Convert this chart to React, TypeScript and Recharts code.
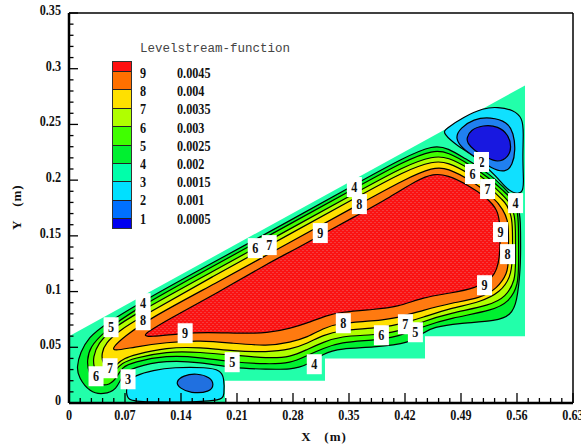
import React from 'react';
import { ScatterChart, Scatter, XAxis, YAxis, ReferenceLine } from 'recharts';

type Pt = { x: number; y: number };
const toPts = (rows: number[][]): Pt[] => rows.map(([x, y]) => ({ x, y }));

const xTicks = [0, 0.014, 0.028, 0.042, 0.056, 0.07, 0.084, 0.098, 0.112, 0.126, 0.14, 0.154, 0.168, 0.182, 0.196, 0.21, 0.224, 0.238, 0.252, 0.266, 0.28, 0.294, 0.308, 0.322, 0.336, 0.35, 0.364, 0.378, 0.392, 0.406, 0.42, 0.434, 0.448, 0.462, 0.476, 0.49, 0.504, 0.518, 0.532, 0.546, 0.56, 0.574, 0.588, 0.602, 0.616, 0.63];
const xMajor = [0, 0.07, 0.14, 0.21, 0.28, 0.35, 0.42, 0.49, 0.56, 0.63];
const yTicks = [0, 0.01, 0.02, 0.03, 0.04, 0.05, 0.06, 0.07, 0.08, 0.09, 0.1, 0.11, 0.12, 0.13, 0.14, 0.15, 0.16, 0.17, 0.18, 0.19, 0.2, 0.21, 0.22, 0.23, 0.24, 0.25, 0.26, 0.27, 0.28, 0.29, 0.3, 0.31, 0.32, 0.33, 0.34, 0.35];
const yMajor = [0, 0.05, 0.1, 0.15, 0.2, 0.25, 0.3, 0.35];

const legendLevels = ['9', '8', '7', '6', '5', '4', '3', '2', '1'];
const legendValues = ['0.0045', '0.004', '0.0035', '0.003', '0.0025', '0.002', '0.0015', '0.001', '0.0005'];
const legendColors = ['#ff1010', '#ff7000', '#ffe000', '#b0ff00', '#40ff00', '#00f030', '#00ffaa', '#00e0ff', '#0070ff', '#0000f0'];

const domainOutline = toPts([[0, 0], [0, 0.06], [0.57, 0.285], [0.57, 0.06], [0.445, 0.06], [0.445, 0.04], [0.32, 0.04], [0.32, 0.02], [0.195, 0.02], [0.195, 0]]);

const contour4 = toPts([[0.014, 0.0455], [0.025, 0.059], [0.043, 0.07], [0.101, 0.095], [0.18, 0.126], [0.277, 0.164], [0.357, 0.196], [0.42, 0.2209], [0.4556, 0.2315], [0.4731, 0.229], [0.4981, 0.218], [0.5056, 0.215], [0.527, 0.2045], [0.5432, 0.194], [0.5545, 0.1848], [0.562, 0.176], [0.5645, 0.164], [0.5645, 0.14], [0.5645, 0.122], [0.56, 0.0896], [0.552, 0.079], [0.5357, 0.0735], [0.485, 0.0716], [0.456, 0.068], [0.443, 0.0635], [0.427, 0.0536], [0.38, 0.05], [0.339, 0.049], [0.318, 0.0446], [0.298, 0.0339], [0.277, 0.03], [0.248, 0.0303], [0.205, 0.0312], [0.164, 0.0366], [0.122, 0.0384], [0.08, 0.0321], [0.066, 0.025], [0.06, 0.012], [0.043, 0.0075], [0.026, 0.0095], [0.012, 0.023], [0.0095, 0.032]]);
const contour5 = toPts([[0.026, 0.05], [0.043, 0.0635], [0.08, 0.0832], [0.18, 0.1227], [0.277, 0.161], [0.36, 0.1938], [0.42, 0.2175], [0.4556, 0.2271], [0.4731, 0.2253], [0.5019, 0.2136], [0.5269, 0.201], [0.5432, 0.1902], [0.5545, 0.183], [0.5607, 0.1731], [0.562, 0.1597], [0.562, 0.128], [0.562, 0.1057], [0.5495, 0.0905], [0.5307, 0.0833], [0.4768, 0.0761], [0.443, 0.0689], [0.41, 0.059], [0.38, 0.0563], [0.339, 0.0545], [0.318, 0.049], [0.298, 0.0428], [0.277, 0.0357], [0.248, 0.0348], [0.205, 0.0366], [0.164, 0.041], [0.122, 0.0429], [0.08, 0.0366], [0.066, 0.0321], [0.06, 0.0231], [0.051, 0.0159], [0.036, 0.0159], [0.024, 0.0267], [0.0225, 0.0384]]);
const contour6 = toPts([[0.036, 0.0536], [0.055, 0.067], [0.08, 0.0787], [0.18, 0.1182], [0.277, 0.1565], [0.36, 0.1893], [0.42, 0.213], [0.4556, 0.2217], [0.4731, 0.2208], [0.5019, 0.21], [0.5269, 0.1974], [0.5432, 0.1857], [0.552, 0.1794], [0.557, 0.1686], [0.5582, 0.157], [0.5582, 0.128], [0.5582, 0.1102], [0.5457, 0.095], [0.5269, 0.0878], [0.4768, 0.0806], [0.443, 0.0734], [0.41, 0.0635], [0.38, 0.061], [0.339, 0.06], [0.318, 0.0545], [0.298, 0.0482], [0.277, 0.041], [0.248, 0.0402], [0.205, 0.0429], [0.164, 0.0456], [0.122, 0.0465], [0.08, 0.04], [0.066, 0.0357], [0.058, 0.0294], [0.049, 0.0222], [0.036, 0.025], [0.031, 0.032], [0.03, 0.041]]);
const contour7 = toPts([[0.045, 0.0536], [0.064, 0.0653], [0.083, 0.0743], [0.18, 0.1137], [0.277, 0.152], [0.36, 0.1848], [0.42, 0.2085], [0.4556, 0.2172], [0.4731, 0.2163], [0.5019, 0.2055], [0.5269, 0.1929], [0.5432, 0.1812], [0.547, 0.1785], [0.5532, 0.1677], [0.5545, 0.157], [0.5545, 0.128], [0.552, 0.1129], [0.5394, 0.0995], [0.5144, 0.0905], [0.4768, 0.0851], [0.443, 0.077], [0.41, 0.0698], [0.38, 0.067], [0.339, 0.0653], [0.318, 0.061], [0.298, 0.0536], [0.277, 0.048], [0.248, 0.0456], [0.205, 0.0465], [0.164, 0.05], [0.122, 0.05], [0.08, 0.0429], [0.07, 0.0402], [0.06, 0.0357], [0.054, 0.0276], [0.041, 0.0357], [0.041, 0.0447]]);
const contour8 = toPts([[0.055, 0.05], [0.068, 0.059], [0.101, 0.076], [0.18, 0.1062], [0.277, 0.1445], [0.36, 0.1773], [0.42, 0.201], [0.4556, 0.2118], [0.4731, 0.2109], [0.5019, 0.2001], [0.5307, 0.1848], [0.5432, 0.1731], [0.5482, 0.1641], [0.5495, 0.1552], [0.5495, 0.128], [0.5482, 0.1165], [0.5357, 0.1031], [0.5144, 0.094], [0.4768, 0.0896], [0.443, 0.0833], [0.41, 0.0761], [0.38, 0.0735], [0.335, 0.0716], [0.318, 0.067], [0.298, 0.059], [0.277, 0.0545], [0.248, 0.051], [0.205, 0.0536], [0.164, 0.0563], [0.122, 0.0545], [0.08, 0.05], [0.055, 0.0465]]);
const contour9 = toPts([[0.094, 0.0608], [0.098, 0.0635], [0.122, 0.0743], [0.185, 0.0986], [0.255, 0.128], [0.277, 0.1356], [0.36, 0.1684], [0.402, 0.185], [0.435, 0.2], [0.4556, 0.206], [0.473, 0.2045], [0.498, 0.196], [0.523, 0.184], [0.536, 0.173], [0.539, 0.161], [0.539, 0.128], [0.531, 0.112], [0.508, 0.103], [0.477, 0.0986], [0.443, 0.095], [0.41, 0.086], [0.381, 0.084], [0.339, 0.0815], [0.323, 0.0788], [0.302, 0.0727], [0.277, 0.067], [0.248, 0.0626], [0.214, 0.0625], [0.172, 0.0635], [0.141, 0.0625], [0.099, 0.059]]);

const upperEddy3 = toPts([[0.4668, 0.2423], [0.4706, 0.2459], [0.4931, 0.2567], [0.5181, 0.2648], [0.5357, 0.2657], [0.5557, 0.263], [0.567, 0.2558], [0.5682, 0.2423], [0.567, 0.2208], [0.5682, 0.2001], [0.5682, 0.1866], [0.5495, 0.1893], [0.5357, 0.2028], [0.5056, 0.2226], [0.4868, 0.2298]]);
const upperEddy2 = toPts([[0.4819, 0.2378], [0.4894, 0.2468], [0.5056, 0.2549], [0.5269, 0.2567], [0.5482, 0.2522], [0.5557, 0.2423], [0.5582, 0.2271], [0.5545, 0.2136], [0.5457, 0.2064], [0.5269, 0.2109], [0.5144, 0.2181], [0.4931, 0.2271]]);
const upperEddy1 = toPts([[0.4969, 0.2378], [0.5019, 0.245], [0.5169, 0.2495], [0.5369, 0.2486], [0.5495, 0.2405], [0.5532, 0.2297], [0.5495, 0.2208], [0.5357, 0.2154], [0.5207, 0.2208], [0.5056, 0.2271], [0.4981, 0.2333]]);
const lowerEddy3 = toPts([[0.0713, 0.0096], [0.0726, 0.0186], [0.0826, 0.0249], [0.1051, 0.0294], [0.1302, 0.0321], [0.1727, 0.0321], [0.189, 0.0294], [0.194, 0.0231], [0.194, 0.0069], [0.1915, 0.001], [0.0889, 0.0006], [0.0738, 0.0024]]);
const lowerEddy2 = toPts([[0.1327, 0.0186], [0.1427, 0.0249], [0.1602, 0.0267], [0.1765, 0.0231], [0.1815, 0.0168], [0.1765, 0.0096], [0.1514, 0.0087], [0.1389, 0.0132]]);

const contourLabels = [
  { x: 0.3567, y: 0.1938, text: '4' }, { x: 0.363, y: 0.1785, text: '8' }, { x: 0.2328, y: 0.139, text: '6' },
  { x: 0.2503, y: 0.1417, text: '7' }, { x: 0.3141, y: 0.1525, text: '9' }, { x: 0.5156, y: 0.2163, text: '2' },
  { x: 0.5044, y: 0.2055, text: '6' }, { x: 0.5232, y: 0.192, text: '7' }, { x: 0.5582, y: 0.1794, text: '4' },
  { x: 0.5394, y: 0.1534, text: '9' }, { x: 0.5482, y: 0.1336, text: '8' }, { x: 0.5194, y: 0.1057, text: '9' },
  { x: 0.3429, y: 0.0716, text: '8' }, { x: 0.4205, y: 0.0707, text: '7' }, { x: 0.3905, y: 0.0608, text: '6' },
  { x: 0.433, y: 0.0635, text: '5' }, { x: 0.3066, y: 0.0348, text: '4' }, { x: 0.204, y: 0.0366, text: '5' },
  { x: 0.1452, y: 0.0626, text: '9' }, { x: 0.0526, y: 0.068, text: '5' }, { x: 0.0926, y: 0.0896, text: '4' },
  { x: 0.0926, y: 0.0743, text: '8' }, { x: 0.0513, y: 0.0312, text: '7' }, { x: 0.0338, y: 0.024, text: '6' },
  { x: 0.0738, y: 0.0213, text: '3' },
];

const SERIF = '"Liberation Serif", serif';

// the original numbers are taller than they are wide, so squeeze them a bit
const NarrowText = ({ x, y, anchor, children }: any) => (
  <text
    transform={`translate(${x},${y}) scale(0.84,1)`}
    textAnchor={anchor}
    fontFamily={SERIF}
    fontWeight="bold"
    fontSize={14.5}
    fill="#111"
  >
    {children}
  </text>
);

const XTick = ({ x, y, payload }: any) =>
  xMajor.includes(payload.value) ? <NarrowText x={x} y={y + 17} anchor="middle">{payload.value}</NarrowText> : <g />;

const YTick = ({ x, y, payload }: any) =>
  yMajor.includes(payload.value) ? <NarrowText x={x - 8} y={y + 2} anchor="end">{payload.value}</NarrowText> : <g />;

// axes sit under the series, so the inward tick marks are series of their own
const xMark = ({ cx, cy, payload }: any) => (
  <line x1={cx} x2={cx} y1={cy} y2={cy - (xMajor.includes(payload.x) ? 10 : 5)} stroke="#000" strokeWidth={1.3} />
);
const yMark = ({ cx, cy, payload }: any) => (
  <line x1={cx} x2={cx + (yMajor.includes(payload.y) ? 9 : 4.5)} y1={cy} y2={cy} stroke="#000" strokeWidth={1.3} />
);
const xMarks = xTicks.map((x) => ({ x, y: 0 }));
const yMarks = yTicks.map((y) => ({ x: 0, y }));

const ContourLabel = ({ cx, cy, payload }: any) => (
  <g>
    <rect x={cx - 7.5} y={cy - 10} width={15} height={20} fill="#fff" />
    <NarrowText x={cx} y={cy + 5} anchor="middle">{payload.text}</NarrowText>
  </g>
);

const noDot = () => <g />;

const band = (key: string, data: Pt[], fill: string, stroke: string = '#000', joint: any = 'basisClosed') => (
  <Scatter
    key={key}
    data={data}
    fill={fill}
    line={{ fill, stroke, strokeWidth: 1.2 }}
    lineJointType={joint}
    shape={noDot}
    isAnimationActive={false}
  />
);

const axisEdge = (key: string, data: Pt[]) => (
  <Scatter key={key} data={data} fill="none" line={{ stroke: '#000', strokeWidth: 2.5 }} lineJointType="linear" shape={noDot} isAnimationActive={false} />
);

const legendText: React.CSSProperties = {
  position: 'absolute',
  fontFamily: SERIF,
  fontWeight: 'bold',
  fontSize: 14.5,
  lineHeight: '15px',
  color: '#111',
  transform: 'scaleX(0.84)',
  transformOrigin: 'left',
};

const Legend = () => (
  <div style={{ position: 'absolute', left: 0, top: 0 }}>
    <div style={{ position: 'absolute', left: 140, top: 42, fontFamily: '"Liberation Mono", monospace', fontSize: 12.5, color: '#444', whiteSpace: 'pre' }}>
      Levelstream-function
    </div>
    <div style={{ position: 'absolute', left: 112, top: 61, width: 18, border: '0.5px solid #333' }}>
      {legendColors.map((c, i) => (
        <div key={c} style={{ height: i === 0 || i === 9 ? 9 : 17.4, background: c, borderBottom: i < 9 ? '1px solid #222' : 'none' }} />
      ))}
    </div>
    {legendLevels.map((lv, i) => (
      <div key={lv} style={{ ...legendText, left: 140, top: 66 + i * 18.2 }}>{lv}</div>
    ))}
    {legendValues.map((v, i) => (
      <div key={v} style={{ ...legendText, left: 177, top: 66 + i * 18.2 }}>{v}</div>
    ))}
  </div>
);

export default function App() {
  return (
    <div style={{ position: 'absolute', left: 0, top: 0, width: 581, height: 447 }}>
      <ScatterChart width={581} height={447} margin={{ top: 13, right: 8, bottom: 0, left: 0 }}>
        <defs>
          <pattern id="mesh" width="4" height="4" patternUnits="userSpaceOnUse">
            <rect width="4" height="4" fill="#fb1212" />
            <rect x="0" y="0" width="2" height="1" fill="#f43c3c" />
            <rect x="2" y="2" width="2" height="1" fill="#f43c3c" />
          </pattern>
        </defs>
        <XAxis
          type="number"
          dataKey="x"
          domain={[0, 0.63]}
          ticks={xTicks}
          interval={0}
          height={44}
          tickSize={0}
          tickMargin={0}
          tick={<XTick />}
          axisLine={false}
          label={{ value: 'X\u00a0\u00a0\u00a0(m)', position: 'insideBottom', offset: 6, dx: 3, style: { fontFamily: SERIF, fontWeight: 'bold', fontSize: 13, letterSpacing: 1, fill: '#111' } }}
        />
        <YAxis
          type="number"
          dataKey="y"
          domain={[0, 0.35]}
          ticks={yTicks}
          interval={0}
          width={69}
          tickSize={0}
          tickMargin={0}
          tick={<YTick />}
          axisLine={false}
          label={{ value: 'Y\u00a0\u00a0\u00a0(m)', angle: -90, position: 'insideLeft', offset: 16, dy: 22, style: { fontFamily: SERIF, fontWeight: 'bold', fontSize: 13, letterSpacing: 1, fill: '#111' } }}
        />
        <ReferenceLine y={0.35} stroke="#000" strokeWidth={1.5} />
        <ReferenceLine x={0.63} stroke="#000" strokeWidth={1.5} />
        {band('domain', domainOutline, '#22ffaa', 'none', 'linearClosed')}
        {band('c4', contour4, '#00f030')}
        {band('c5', contour5, '#40ff00')}
        {band('c6', contour6, '#b0ff00')}
        {band('c7', contour7, '#ffe000')}
        {band('c8', contour8, '#ff7a10')}
        {band('c9', contour9, 'url(#mesh)')}
        {band('u3', upperEddy3, '#10e0ff')}
        {band('u2', upperEddy2, '#2080f0')}
        {band('u1', upperEddy1, '#1818e0')}
        {band('l3', lowerEddy3, '#10e8ff')}
        {band('l2', lowerEddy2, '#2070e0')}
        <Scatter data={contourLabels} shape={<ContourLabel />} isAnimationActive={false} />
        <Scatter data={xMarks} shape={xMark} isAnimationActive={false} />
        <Scatter data={yMarks} shape={yMark} isAnimationActive={false} />
        {axisEdge('bottomEdge', [{ x: 0, y: 0 }, { x: 0.63, y: 0 }])}
        {axisEdge('leftEdge', [{ x: 0, y: 0 }, { x: 0, y: 0.35 }])}
      </ScatterChart>
      <Legend />
    </div>
  );
}
